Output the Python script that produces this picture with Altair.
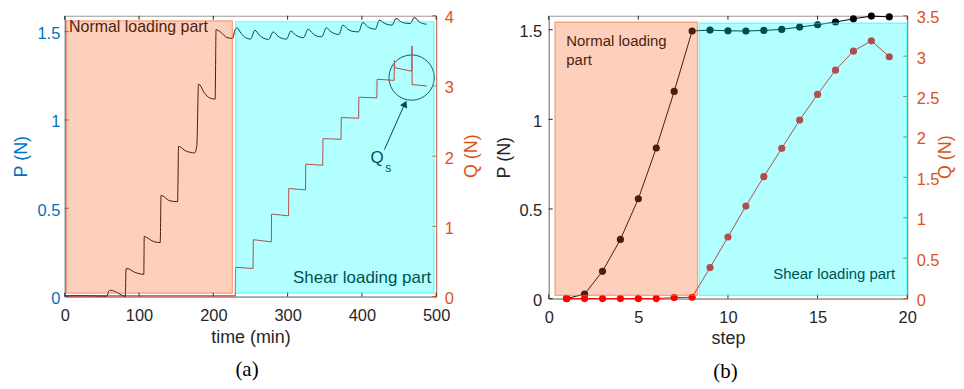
import altair as alt
import pandas as pd

# ---------------- panel (a): time series ----------------
time_P = [0, 20, 40, 57, 59, 62, 67, 75, 81.5,
          82.5, 86.2, 92, 97.4, 106.4,
          107, 110.6, 117.3, 122, 128.5,
          129.6, 132, 139.8, 146, 151.9,
          153.2, 156, 162, 168.9, 174.7, 177.8,
          180, 182, 186.7, 193.4, 202.4,
          203.7, 206, 210.8, 218.1, 226.1,
          228.5, 231.5, 237.5, 243.5, 250,
          256, 262, 268, 274.5,
          280.6, 287, 293, 298.5,
          304.3, 310.5, 316.5, 321.5,
          327.5, 334, 340, 346,
          352.1, 358.5, 364.5, 369,
          374.4, 381, 387, 395.5,
          401.2, 407.5, 413.5, 418,
          423.6, 430, 436, 440.5,
          446, 452.5, 458.5, 465,
          470.5, 477, 482, 487]
load_P = [0.004, 0.005, 0.004, 0.003, 0.03, 0.036, 0.03, 0.012, 0.002,
          0.158, 0.157, 0.142, 0.133, 0.126,
          0.34, 0.334, 0.316, 0.309, 0.306,
          0.573, 0.570, 0.545, 0.539, 0.537,
          0.851, 0.846, 0.826, 0.817, 0.813, 0.855,
          1.202, 1.198, 1.161, 1.129, 1.118,
          1.512, 1.508, 1.494, 1.467, 1.462,
          1.500, 1.522, 1.490, 1.466, 1.458,
          1.508, 1.480, 1.462, 1.456,
          1.499, 1.474, 1.461, 1.458,
          1.503, 1.482, 1.469, 1.466,
          1.514, 1.489, 1.474, 1.471,
          1.522, 1.499, 1.487, 1.484,
          1.537, 1.514, 1.502, 1.499,
          1.552, 1.528, 1.517, 1.514,
          1.565, 1.548, 1.539, 1.537,
          1.574, 1.556, 1.548, 1.546,
          1.580, 1.556, 1.546, 1.542]

time_Q = [0, 229.5, 229.9, 253.5, 253.8, 278.1, 278.4, 301.3, 301.6, 324.1, 324.4,
          347.3, 347.6, 371.9, 372.2, 395.6, 395.9, 420.1, 420.4, 443.4, 443.7,
          444.2, 467.2, 467.4, 467.6, 487.5]
load_Q = [0.01, 0.01, 0.417, 0.40, 0.81, 0.78, 1.175, 1.15, 1.54, 1.52, 1.886,
          1.87, 2.25, 2.24, 2.55, 2.54, 2.84, 2.83, 3.095, 3.08, 3.36,
          3.26, 3.21, 3.57, 3.02, 3.0]

# ---------------- panel (b): per step ----------------
step = list(range(1, 20))
step_P = [0.0, 0.025, 0.152, 0.33, 0.557, 0.84, 1.156, 1.493, 1.498, 1.494,
          1.493, 1.496, 1.502, 1.515, 1.528, 1.543, 1.561, 1.576, 1.572]
step_Q = [0.0, 0.0, 0.0, 0.0, 0.0, 0.0, 0.012, 0.016, 0.383, 0.762,
          1.145, 1.509, 1.859, 2.209, 2.527, 2.827, 3.062, 3.19, 2.993]

# tick values
ticks_time = [0, 100, 200, 300, 400, 500]
ticks_PA = [0, 0.5, 1, 1.5]
ticks_QA = [0, 1, 2, 3, 4]
ticks_step = [0, 5, 10, 15, 20]
ticks_PB = [0, 0.5, 1, 1.5]
ticks_QB = [0, 0.5, 1, 1.5, 2, 2.5, 3, 3.5]

# shaded regions
reg_name = ["normal", "shear"]
regA_t0 = [2.3, 230]
regA_t1 = [225.6, 497]
regA_p0 = [0.019, 0.019]
regA_p1 = [1.561, 1.556]
regB_s0 = [0.35, 8.4]
regB_s1 = [8.3, 19.97]
regB_p0 = [0.018, 0.018]
regB_p1 = [1.543, 1.537]

# ---------------- styling ----------------
FONT = "Liberation Sans"
BLUE = "#0072BD"
ORANGE = "#D95319"
DARK = "#262626"
AXGRAY = "#8c8c8c"
SALMON = "#F56220"
CYAN = "#00FFFF"
WA, HA = 373, 282
WB, HB = 360, 284


def ax(**kw):
    base = dict(grid=False, ticks=False, labelFont=FONT, titleFont=FONT,
                labelFontSize=16.5, titleFontSize=18, titleFontWeight="normal",
                domainWidth=1, labelExpr="'' + datum.value", labelFlush=False,
                titleAlign="center", titleBaseline="middle")
    base.update(kw)
    return alt.Axis(**base)


def rect_layer(df, xenc, x2f, yscale):
    return alt.Chart(df).mark_rect(fillOpacity=0.3, strokeOpacity=0.55, strokeWidth=1.2).encode(
        x=xenc, x2=alt.X2(x2f),
        y=alt.Y("p0:Q", scale=yscale, axis=None), y2=alt.Y2("p1:Q"),
        color=alt.Color("name:N", scale=alt.Scale(domain=reg_name, range=[SALMON, CYAN]), legend=None),
        stroke=alt.Stroke("name:N", scale=alt.Scale(domain=reg_name, range=[SALMON, CYAN]), legend=None),
    )


def side_title(text, xpix, ypix, color):
    return alt.Chart(pd.DataFrame({"txt": [text]})).mark_text(
        angle=270, align="center", baseline="middle", font=FONT, fontSize=18, color=color).encode(
        x=alt.value(xpix), y=alt.value(ypix), text="txt:N")


# ================= panel (a) =================
xA_scale = alt.Scale(domain=[0, 500], nice=False, zero=False)
pA_scale = alt.Scale(domain=[0, 1.59], nice=False)
qA_scale = alt.Scale(domain=[0, 4], nice=False)
xA_axis = ax(title="time (min)", values=ticks_time, domainColor=AXGRAY, labelColor=DARK,
             titleColor=DARK, labelPadding=11, titleX=WA / 2, titleY=41)
pA_axis = ax(title="P (N)", orient="left", values=ticks_PA, domainColor=BLUE, labelColor=BLUE,
             titleColor=BLUE, labelPadding=5, domainOpacity=0.7, labelOffset=2,
             titleAngle=270, titleX=-43, titleY=HA / 2)
qA_axis = ax(title=None, orient="right", values=ticks_QA, domainColor=ORANGE, labelColor=ORANGE,
             labelPadding=8, domainOpacity=0.6, labelOffset=2)


def XA(f):
    return alt.X(f"{f}:Q", scale=xA_scale, axis=xA_axis)


def PA(f):
    return alt.Y(f"{f}:Q", scale=pA_scale, axis=pA_axis)


def QA(f):
    return alt.Y(f"{f}:Q", scale=qA_scale, axis=qA_axis)


dfPA = pd.DataFrame({"t": time_P, "P": load_P})
dfQA = pd.DataFrame({"t": time_Q, "Q": load_Q})

lineP_A = alt.Chart(dfPA).mark_line(color="black", strokeWidth=1, interpolate="monotone").encode(
    x=XA("t"), y=PA("P"))
lineQ_A = alt.Chart(dfQA).mark_line(color="red", strokeWidth=1).encode(x=XA("t"), y=QA("Q"))

tx_A = alt.Chart(pd.DataFrame({"t": ticks_time})).mark_rule(color=DARK, strokeWidth=1)
tickBot_A = tx_A.encode(x=XA("t"), y=alt.value(HA), y2=alt.value(HA - 4))
tickTop_A = tx_A.encode(x=XA("t"), y=alt.value(0), y2=alt.value(4))
tickP_A = alt.Chart(pd.DataFrame({"P": ticks_PA})).mark_rule(color=BLUE, strokeWidth=1).encode(
    y=PA("P"), x=alt.value(0), x2=alt.value(4))
tickQ_A = alt.Chart(pd.DataFrame({"Q": ticks_QA})).mark_rule(color=ORANGE, strokeWidth=1).encode(
    y=QA("Q"), x=alt.value(WA - 4), x2=alt.value(WA))
titleQ_A = side_title("Q (N)", WA + 36, HA / 2, ORANGE)

txtN_A = alt.Chart(pd.DataFrame({"t": [5.8], "P": [1.528], "s": ["Normal loading part"]})).mark_text(
    align="left", baseline="middle", font=FONT, fontSize=16, color="black").encode(
    x=XA("t"), y=PA("P"), text="s:N")
txtS_A = alt.Chart(pd.DataFrame({"t": [493.3], "P": [0.103], "s": ["Shear loading part"]})).mark_text(
    align="right", baseline="middle", font=FONT, fontSize=17, color="black").encode(
    x=XA("t"), y=PA("P"), text="s:N")
txtQ_A = alt.Chart(pd.DataFrame({"t": [420.5], "P": [0.782], "s": ["Q"]})).mark_text(
    align="center", baseline="middle", font=FONT, fontSize=17, color="black").encode(
    x=XA("t"), y=PA("P"), text="s:N")
txtSub_A = alt.Chart(pd.DataFrame({"t": [435.5], "P": [0.73], "s": ["s"]})).mark_text(
    align="center", baseline="middle", font=FONT, fontSize=12, color="black").encode(
    x=XA("t"), y=PA("P"), text="s:N")
circ_A = alt.Chart(pd.DataFrame({"t": [466.9], "P": [1.240]})).mark_point(
    shape="circle", size=2070, filled=False, stroke="black", strokeWidth=0.9, opacity=1).encode(
    x=XA("t"), y=PA("P"))
arrow_A = alt.Chart(pd.DataFrame({"t": [430.3], "P": [0.832], "t2": [457.0], "P2": [1.085]})).mark_rule(
    color="black", strokeWidth=1).encode(x=XA("t"), x2=alt.X2("t2"), y=PA("P"), y2=alt.Y2("P2"))
head_A = alt.Chart(pd.DataFrame({"t": [458.0], "P": [1.091]})).mark_point(
    shape="triangle-up", size=60, filled=True, color="black", opacity=1, angle=25).encode(
    x=XA("t"), y=PA("P"))

rectA_df = pd.DataFrame({"name": reg_name, "t0": regA_t0, "t1": regA_t1, "p0": regA_p0, "p1": regA_p1})
rect_A = rect_layer(rectA_df, XA("t0"), "t1", pA_scale)

groupP_A = alt.layer(lineP_A, tickBot_A, tickTop_A, tickP_A, txtN_A, txtS_A, txtQ_A, txtSub_A,
                     circ_A, arrow_A, head_A, titleQ_A)
groupQ_A = alt.layer(lineQ_A, tickQ_A)
panelA = alt.layer(groupP_A, groupQ_A, rect_A).resolve_scale(y="independent").properties(
    width=WA, height=HA,
    title=alt.TitleParams("(a)", orient="bottom", anchor="middle", frame="bounds",
                          font="Liberation Serif", fontSize=21, fontWeight="normal",
                          color="black", offset=13))

# ================= panel (b) =================
xB_scale = alt.Scale(domain=[0, 20], nice=False, zero=False)
pB_scale = alt.Scale(domain=[0, 1.578], nice=False)
qB_scale = alt.Scale(domain=[0, 3.5], nice=False)
xB_axis = ax(title="step", values=ticks_step, domainColor=AXGRAY, labelColor=DARK,
             titleColor=DARK, labelPadding=11, titleX=WB / 2, titleY=40.6)
pB_axis = ax(title="P (N)", orient="left", values=ticks_PB, domainColor=AXGRAY, labelColor=DARK,
             titleColor=DARK, labelPadding=7, labelOffset=2,
             titleAngle=270, titleX=-44, titleY=HB / 2)
qB_axis = ax(title=None, orient="right", values=ticks_QB, domainColor=ORANGE, labelColor=ORANGE,
             labelPadding=9, domainOpacity=0.6, labelOffset=2)


def XB(f):
    return alt.X(f"{f}:Q", scale=xB_scale, axis=xB_axis)


def PB(f):
    return alt.Y(f"{f}:Q", scale=pB_scale, axis=pB_axis)


def QB(f):
    return alt.Y(f"{f}:Q", scale=qB_scale, axis=qB_axis)


dfB = pd.DataFrame({"s": step, "P": step_P, "Q": step_Q})
lineP_B = alt.Chart(dfB).mark_line(color="black", strokeWidth=1).encode(x=XB("s"), y=PB("P"))
dotP_B = alt.Chart(dfB).mark_circle(color="black", size=52, opacity=1).encode(x=XB("s"), y=PB("P"))
lineQ_B = alt.Chart(dfB).mark_line(color="red", strokeWidth=1).encode(x=XB("s"), y=QB("Q"))
dotQ_B = alt.Chart(dfB).mark_circle(color="red", size=52, opacity=1).encode(x=XB("s"), y=QB("Q"))

tx_B = alt.Chart(pd.DataFrame({"s": ticks_step})).mark_rule(color=DARK, strokeWidth=1)
tickBot_B = tx_B.encode(x=XB("s"), y=alt.value(HB), y2=alt.value(HB - 4))
tickTop_B = tx_B.encode(x=XB("s"), y=alt.value(0), y2=alt.value(4))
tickP_B = alt.Chart(pd.DataFrame({"P": ticks_PB})).mark_rule(color=DARK, strokeWidth=1).encode(
    y=PB("P"), x=alt.value(0), x2=alt.value(4))
tickQ_B = alt.Chart(pd.DataFrame({"Q": ticks_QB})).mark_rule(color=ORANGE, strokeWidth=1).encode(
    y=QB("Q"), x=alt.value(WB - 4), x2=alt.value(WB))
titleQ_B = side_title("Q (N)", WB + 39, HB / 2, ORANGE)

txtN_B = alt.Chart(pd.DataFrame({"s": [0.98, 0.98], "P": [1.439, 1.329],
                                 "txt": ["Normal loading", "part"]})).mark_text(
    align="left", baseline="middle", font=FONT, fontSize=15, color="black").encode(
    x=XB("s"), y=PB("P"), text="txt:N")
txtS_B = alt.Chart(pd.DataFrame({"s": [19.33], "P": [0.135], "txt": ["Shear loading part"]})).mark_text(
    align="right", baseline="middle", font=FONT, fontSize=15, color="black").encode(
    x=XB("s"), y=PB("P"), text="txt:N")

rectB_df = pd.DataFrame({"name": reg_name, "s0": regB_s0, "s1": regB_s1, "p0": regB_p0, "p1": regB_p1})
rect_B = rect_layer(rectB_df, XB("s0"), "s1", pB_scale)

groupP_B = alt.layer(lineP_B, dotP_B, tickBot_B, tickTop_B, tickP_B, txtN_B, txtS_B, titleQ_B)
groupQ_B = alt.layer(lineQ_B, dotQ_B, tickQ_B)
panelB = alt.layer(groupP_B, groupQ_B, rect_B).resolve_scale(y="independent").properties(
    width=WB, height=HB,
    title=alt.TitleParams("(b)", orient="bottom", anchor="middle", frame="bounds",
                          font="Liberation Serif", fontSize=21, fontWeight="normal",
                          color="black", offset=13))

chart = alt.hconcat(panelA, panelB, spacing=13).properties(
    padding={"left": 4, "top": 0, "right": 0, "bottom": 0}, background="white"
).configure(font=FONT).configure_view(stroke="#9a9a9a", strokeWidth=1)

chart.save("out.html", embed_options={"renderer": "svg", "actions": False})
